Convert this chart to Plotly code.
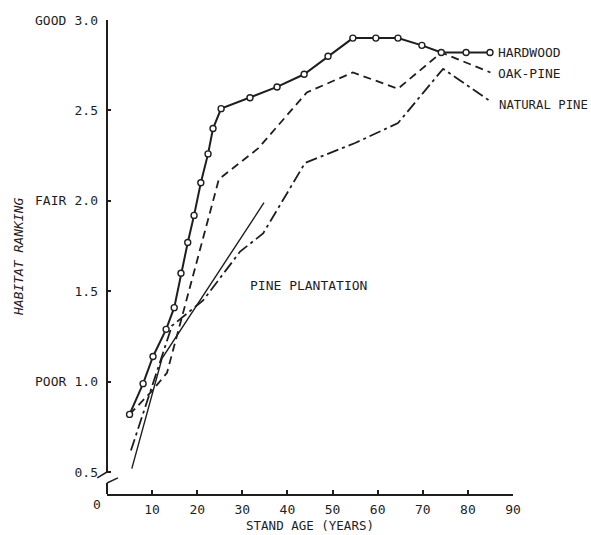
import plotly.graph_objects as go

# ---- data ----
hw_age = [5, 8, 10.2, 13.1, 14.9, 16.4, 17.9, 19.3, 20.8, 22.4, 23.5, 25.3, 31.7, 37.7, 43.7, 49, 54.5, 59.6, 64.5, 69.8, 74.1, 79.6, 84.9]
hw_rank = [0.82, 0.99, 1.14, 1.29, 1.41, 1.60, 1.77, 1.92, 2.10, 2.26, 2.40, 2.51, 2.57, 2.63, 2.70, 2.80, 2.90, 2.90, 2.90, 2.86, 2.82, 2.82, 2.82]

op_age = [5, 10, 13.3, 24.8, 33.5, 44.3, 54.5, 64.5, 74.1, 85]
op_rank = [0.82, 0.95, 1.05, 2.12, 2.29, 2.60, 2.71, 2.62, 2.82, 2.71]

np_age = [5.3, 14.4, 21.3, 29.5, 34.6, 43.9, 55, 64.5, 74.5, 85]
np_rank = [0.62, 1.31, 1.45, 1.72, 1.82, 2.21, 2.32, 2.43, 2.73, 2.55]

pp_age = [5.5, 12.2, 34.8]
pp_rank = [0.52, 1.13, 1.99]

x_ticks = [10, 20, 30, 40, 50, 60, 70, 80, 90]
y_ticks = [0.5, 1.0, 1.5, 2.0, 2.5, 3.0]
y_ticktext = ["0.5", "1.0", "1.5", "2.0", "2.5", "3.0"]
y_words = {"GOOD": 3.0, "FAIR": 2.0, "POOR": 1.0}

INK = "#1e1e1e"
FONT = "DejaVu Sans Mono"

fig = go.Figure()
fig.add_trace(go.Scatter(x=pp_age, y=pp_rank, mode="lines",
                         line=dict(color=INK, width=1.4), name="PINE PLANTATION"))
fig.add_trace(go.Scatter(x=np_age, y=np_rank, mode="lines",
                         line=dict(color=INK, width=1.8, dash="12px,4px,3px,4px"), name="NATURAL PINE"))
fig.add_trace(go.Scatter(x=op_age, y=op_rank, mode="lines",
                         line=dict(color=INK, width=1.8, dash="8px,5px"), name="OAK-PINE"))
fig.add_trace(go.Scatter(x=hw_age, y=hw_rank, mode="lines+markers",
                         line=dict(color=INK, width=2),
                         marker=dict(symbol="circle", size=6, color="white",
                                     line=dict(color=INK, width=1.4)),
                         name="HARDWOOD"))

# series labels
labels = [("HARDWOOD", 85, 2.82, 6, 0, 13), ("OAK-PINE", 85, 2.71, 6, -1, 13),
          ("NATURAL PINE", 85, 2.55, 7, -4, 12.3), ("PINE PLANTATION", 31.2, 1.53, 0, 0, 13)]
for txt, xv, yv, xs, ys, fs in labels:
    fig.add_annotation(x=xv, y=yv, text=txt, showarrow=False, xanchor="left",
                       xshift=xs, yshift=ys, font=dict(family=FONT, size=fs, color=INK))

# words on y axis
for w, yv in y_words.items():
    fig.add_annotation(x=-0.182, xref="paper", y=yv, yref="y", text=w, showarrow=False,
                       xanchor="left", font=dict(family=FONT, size=13, color=INK))

# "0" at origin corner
fig.add_annotation(x=-0.024, xref="paper", y=-0.023, yref="paper", text="0", showarrow=False,
                   xanchor="center", yanchor="middle", font=dict(family=FONT, size=13, color=INK))

# y-axis title
fig.add_annotation(x=-0.219, xref="paper", y=0.5, yref="paper", text="<i>HABITAT RANKING</i>",
                   textangle=-90, showarrow=False, xanchor="center", yanchor="middle",
                   font=dict(family=FONT, size=13, color=INK))

# y axis line with break
line_style = dict(color=INK, width=2)
fig.add_shape(type="line", xref="paper", yref="paper", x0=0, x1=0, y0=0.0464, y1=1.0, line=line_style)
fig.add_shape(type="line", xref="paper", yref="paper", x0=0, x1=0, y0=0, y1=0.0232, line=line_style)
fig.add_shape(type="line", xref="paper", yref="paper", x0=-0.024, x1=0, y0=0.034, y1=0.0464,
              line=dict(color=INK, width=1.5))
fig.add_shape(type="line", xref="paper", yref="paper", x0=0, x1=0.027, y0=0.0232, y1=0.034,
              line=dict(color=INK, width=1.5))

fig.update_layout(
    width=591, height=535,
    margin=dict(l=107, r=78, t=20, b=41, autoexpand=False),
    paper_bgcolor="white", plot_bgcolor="white",
    showlegend=False,
    font=dict(family=FONT, size=13, color=INK),
    xaxis=dict(range=[0, 90], tickvals=x_ticks, ticks="inside", ticklen=4, tickwidth=1.5,
               tickcolor=INK, showline=True, linecolor=INK, linewidth=2, showgrid=False,
               zeroline=False, automargin=False, ticklabelstandoff=2,
               tickfont=dict(family=FONT, size=13, color=INK),
               title=dict(text="STAND AGE (YEARS)", standoff=6,
                          font=dict(family=FONT, size=12.5, color=INK))),
    yaxis=dict(range=[0.38, 3.0], tickvals=y_ticks, ticktext=y_ticktext, ticks="inside",
               ticklen=4, tickwidth=1.5, tickcolor=INK, showline=False, showgrid=False,
               zeroline=False, automargin=False, ticklabelstandoff=8,
               tickfont=dict(family=FONT, size=13, color=INK)),
)

fig.write_html("out.html", config={"displayModeBar": False},
               post_script="document.body.style.margin='0';document.body.style.overflow='hidden';")
